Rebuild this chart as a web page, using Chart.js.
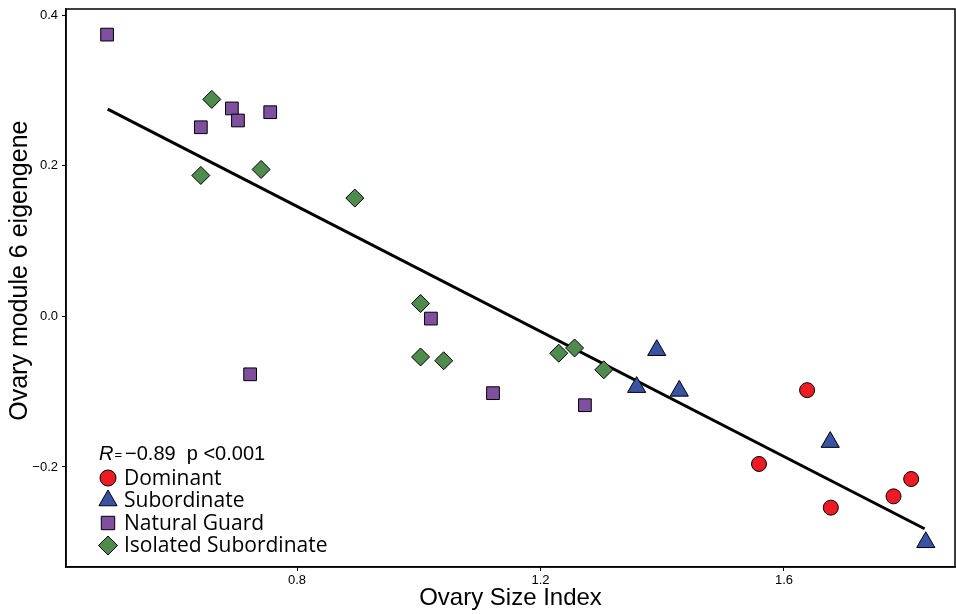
<!DOCTYPE html>
<html>
<head>
<meta charset="utf-8">
<script src="https://cdn.jsdelivr.net/npm/chart.js@4.4.0/dist/chart.umd.min.js"></script>
<style>
  html, body { margin: 0; padding: 0; background: #fff; }
  #wrap { width: 956px; height: 614px; }
</style>
</head>
<body>
<div id="wrap"><canvas id="chart"></canvas></div>
<script>
// values
const dominantX = [1.638, 1.559, 1.677, 1.780, 1.809];
const dominantY = [-0.098, -0.196, -0.254, -0.239, -0.216];

const subordinateX = [1.358, 1.391, 1.428, 1.676, 1.833];
const subordinateY = [-0.094, -0.045, -0.099, -0.167, -0.300];

const guardX = [0.488, 0.642, 0.693, 0.703, 0.756, 0.723, 1.020, 1.122, 1.273];
const guardY = [0.374, 0.251, 0.276, 0.260, 0.271, -0.077, -0.003, -0.102, -0.118];

const isolatedX = [0.660, 0.642, 0.741, 0.895, 1.003, 1.003, 1.041, 1.230, 1.256, 1.304];
const isolatedY = [0.288, 0.187, 0.195, 0.157, 0.017, -0.054, -0.059, -0.049, -0.042, -0.071];

// fitted line end points
const fitX = [0.489, 1.831];
const fitY = [0.275, -0.282];

const xTicks = [0.8, 1.2, 1.6];
const xTickLabels = ['0.8', '1.2', '1.6'];
const yTicks = [0.4, 0.2, 0.0, -0.2];
const yTickLabels = ['0.4', '0.2', '0.0', '\u22120.2'];

const statText = ['R', '=', '\u22120.89  p <0.001'];

const toPoints = (xs, ys) => xs.map((x, i) => ({ x: x, y: ys[i] }));

const sansFont = '"Liberation Sans", Arial, sans-serif';
const legendFont = '"Open Sans", "Liberation Sans", sans-serif';

// legend drawn inside the plot, bottom left
const insideLegend = {
  id: 'insideLegend',
  afterDraw(chart) {
    const ctx = chart.ctx;
    const area = chart.chartArea;
    ctx.save();

    // frame round the plot
    ctx.strokeStyle = '#000';
    ctx.lineWidth = 1.5;
    ctx.strokeRect(area.left, area.top, area.right - area.left, area.bottom - area.top);

    ctx.fillStyle = '#000';
    ctx.textBaseline = 'middle';
    ctx.textAlign = 'left';
    let x = area.left + 33;
    const y0 = area.bottom - 113;
    ctx.font = 'italic 20px ' + sansFont;
    ctx.fillText(statText[0], x, y0);
    x += ctx.measureText(statText[0]).width + 1;
    ctx.font = '13px ' + sansFont;
    ctx.fillText(statText[1], x, y0 + 1);
    x += ctx.measureText(statText[1]).width + 3;
    ctx.font = '20px ' + sansFont;
    ctx.fillText(statText[2], x, y0);

    const rows = chart.data.datasets.filter(d => d.legendRadius);
    rows.forEach((ds, i) => {
      const cy = y0 + 24 + i * 22.5;
      const cx = area.left + 42;
      ctx.fillStyle = ds.backgroundColor;
      ctx.strokeStyle = '#000';
      ctx.lineWidth = 1;
      Chart.helpers.drawPoint(ctx, {
        pointStyle: ds.pointStyle,
        radius: ds.legendRadius,
        borderWidth: 1,
        rotation: 0
      }, cx, cy);
      ctx.fillStyle = '#000';
      ctx.font = '21px ' + legendFont;
      ctx.fillText(ds.label, area.left + 58, cy + 1);
    });
    ctx.restore();
  }
};

new Chart(document.getElementById('chart'), {
  type: 'scatter',
  data: {
    datasets: [
      {
        type: 'line',
        label: 'fit',
        data: toPoints(fitX, fitY),
        borderColor: '#000',
        borderWidth: 3,
        pointRadius: 0,
        fill: false,
        order: 5
      },
      {
        label: 'Dominant',
        data: toPoints(dominantX, dominantY),
        pointStyle: 'circle',
        pointRadius: 7.5,
        legendRadius: 8,
        backgroundColor: '#ED1C24',
        borderColor: '#000',
        borderWidth: 1,
        order: 1
      },
      {
        label: 'Subordinate',
        data: toPoints(subordinateX, subordinateY),
        pointStyle: 'triangle',
        pointRadius: 10.5,
        legendRadius: 10.5,
        backgroundColor: '#3953A4',
        borderColor: '#000',
        borderWidth: 1,
        order: 1
      },
      {
        label: 'Natural Guard',
        data: toPoints(guardX, guardY),
        pointStyle: 'rect',
        pointRadius: 9,
        legendRadius: 9.5,
        backgroundColor: '#7F4FA0',
        borderColor: '#000',
        borderWidth: 1,
        order: 1
      },
      {
        label: 'Isolated Subordinate',
        data: toPoints(isolatedX, isolatedY),
        pointStyle: 'rectRot',
        pointRadius: 9,
        legendRadius: 9.5,
        backgroundColor: '#4E8B4C',
        borderColor: '#000',
        borderWidth: 1,
        order: 1
      }
    ]
  },
  options: {
    responsive: true,
    maintainAspectRatio: false,
    animation: false,
    clip: false,
    layout: { autoPadding: false, padding: { top: 9, right: 1, left: 0, bottom: 0 } },
    plugins: {
      legend: { display: false },
      tooltip: { enabled: false }
    },
    scales: {
      x: {
        type: 'linear',
        min: 0.4205,
        max: 1.881,
        afterFit: s => { s.height = 47; s.paddingLeft = 0; s.paddingRight = 0; },
        afterBuildTicks: s => { s.ticks = xTicks.map(v => ({ value: v })); },
        border: { display: true, color: '#000', width: 1.5 },
        grid: { display: true, drawOnChartArea: false, drawTicks: true, tickLength: 4, color: '#000', lineWidth: 1 },
        ticks: {
          padding: 2,
          color: '#000',
          font: { family: sansFont, size: 13 },
          maxRotation: 0,
          callback: v => xTickLabels[xTicks.indexOf(v)]
        },
        title: {
          display: true,
          text: 'Ovary Size Index',
          color: '#000',
          font: { family: sansFont, size: 24 },
          padding: { top: 0, bottom: 1 }
        }
      },
      y: {
        type: 'linear',
        min: -0.3328,
        max: 0.408,
        afterFit: s => { s.width = 66; s.paddingTop = 0; s.paddingBottom = 0; },
        afterBuildTicks: s => { s.ticks = yTicks.map(v => ({ value: v })); },
        border: { display: true, color: '#000', width: 1.5 },
        grid: { display: true, drawOnChartArea: false, drawTicks: true, tickLength: 4, color: '#000', lineWidth: 1 },
        ticks: {
          padding: 4,
          color: '#000',
          font: { family: sansFont, size: 13 },
          callback: v => yTickLabels[yTicks.indexOf(v)]
        },
        title: {
          display: true,
          text: '     Ovary module 6 eigengene',
          color: '#000',
          font: { family: sansFont, size: 25 },
          padding: { top: 5, bottom: 0 }
        }
      }
    }
  },
  plugins: [insideLegend]
});
</script>
</body>
</html>
